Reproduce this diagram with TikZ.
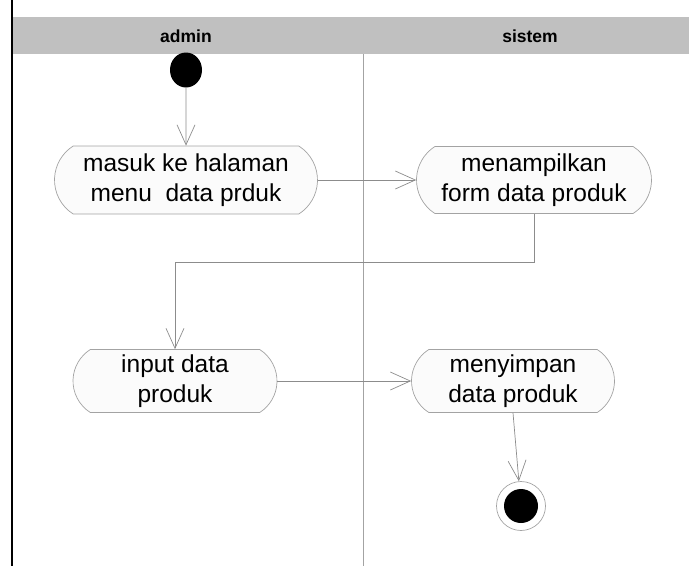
\documentclass[tikz,border=0pt]{standalone}
\usepackage{fontspec}
\setmainfont{Liberation Sans}
\usetikzlibrary{shapes.misc,shapes.geometric,arrows.meta}
\definecolor{lanegray}{RGB}{192,192,192}
\definecolor{linegray}{RGB}{140,140,140}
\definecolor{boxfill}{RGB}{251,251,251}

\begin{document}
\begin{tikzpicture}[x=1pt,y=-1pt,
    aktivitas/.style={rounded rectangle, rounded rectangle arc length=115,
        draw=linegray!80, fill=boxfill, line width=0.7pt, align=center,
        inner sep=0pt, font=\fontsize{24.5}{30}\selectfont},
    alur/.style={draw=linegray, line width=0.7pt,
        -{Straight Barb[length=20pt,width=18pt,line width=0.7pt]}}]
    \useasboundingbox (0,0) rectangle (689,566);

    % Jalur (swimlane)
    \fill[lanegray] (12,17) rectangle (689,54);
    \draw[line width=2pt] (12,0) -- (12,566);
    \draw[linegray!80, line width=0.7pt] (363,54) -- (363,566);
    \node[font=\fontsize{17.5}{19}\selectfont\bfseries] (lblAdmin) at (186,36) {admin};
    \node[font=\fontsize{17.5}{19}\selectfont\bfseries] (lblSistem) at (530,36) {sistem};

    % Awal
    \node[ellipse, fill=black, minimum width=32pt, minimum height=35pt, inner sep=0pt] (mulai) at (186,70) {};

    % Aktivitas
    \node[aktivitas, minimum width=263pt, minimum height=68pt] (masuk) at (186,180)
        {masuk ke halaman\\menu\ \ data prduk};
    \node[aktivitas, minimum width=235pt, minimum height=67pt] (tampil) at (534,180)
        {menampilkan\\form data produk};
    \node[aktivitas, minimum width=204pt, minimum height=63pt] (input) at (175,381)
        {input data\\produk};
    \node[aktivitas, minimum width=203pt, minimum height=63pt] (simpan) at (513,381)
        {menyimpan\\data produk};

    % Akhir
    \node[circle, draw=linegray!80, line width=0.7pt, minimum size=49pt, inner sep=0pt] (selesai) at (521,506) {};
    \fill (selesai.center) circle[radius=17pt];

    % Alur
    \draw[alur] (mulai) -- (masuk);
    \draw[alur] (masuk) -- (tampil);
    \draw[alur] (tampil.south) -- ++(0,48) -| (input.north);
    \draw[alur] (input) -- (simpan);
    \draw[alur] (simpan.south) -- (selesai);
\end{tikzpicture}
\end{document}
